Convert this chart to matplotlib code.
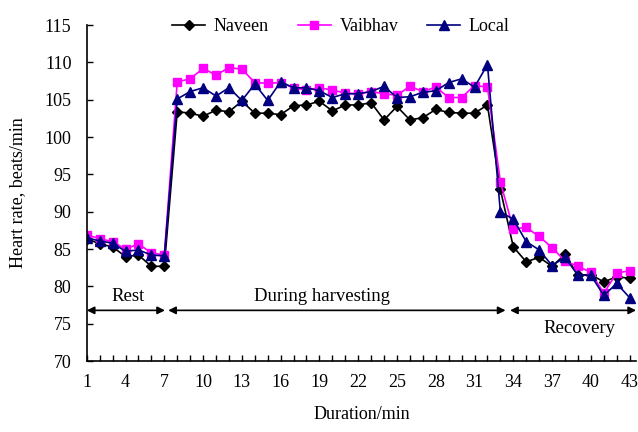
"""Heart rate of three operators during rest, harvesting and recovery."""

import matplotlib

matplotlib.use("Agg")
import matplotlib.pyplot as plt
import numpy as np

# duration in minutes
minutes = np.arange(1, 44)

naveen = [
    86.4, 85.7, 85.3, 84.0, 84.2, 82.7, 82.7,
    103.4, 103.2, 102.8, 103.6, 103.4, 104.8, 103.2, 103.2, 103.0, 104.2,
    104.3, 104.8, 103.5, 104.3, 104.3, 104.6, 102.3, 104.1, 102.3, 102.6,
    103.7, 103.3, 103.2, 103.2, 104.3,
    93.0, 85.3, 83.3, 83.9, 82.7, 84.3, 81.5, 81.6, 80.6, 81.3, 81.1,
]
vaibhav = [
    86.9, 86.4, 86.0, 85.0, 85.7, 84.5, 84.2,
    107.4, 107.8, 109.2, 108.3, 109.3, 109.1, 107.3, 107.2, 107.3, 106.6,
    106.3, 106.6, 106.3, 105.9, 105.8, 106.1, 105.8, 105.6, 106.8, 106.1,
    106.7, 105.3, 105.3, 106.9, 106.7,
    94.0, 87.7, 87.9, 86.7, 85.2, 83.4, 82.7, 81.9, 79.1, 81.8, 82.1,
]
local = [
    86.5, 86.1, 85.8, 84.7, 84.9, 84.2, 84.1,
    105.1, 106.1, 106.6, 105.5, 106.6, 104.9, 107.1, 104.9, 107.4, 106.6,
    106.6, 106.2, 105.3, 105.8, 105.8, 106.1, 106.8, 105.3, 105.4, 106.0,
    106.2, 107.3, 107.8, 106.7, 109.7,
    90.0, 89.0, 86.0, 84.9, 82.8, 83.9, 81.5, 81.5, 78.8, 80.4, 78.5,
]

phase_names = ["Rest", "During harvesting", "Recovery"]
phase_spans = [(1.0, 7.05), (7.3, 33.4), (33.75, 43.5)]

plt.rcParams["font.family"] = ["Liberation Serif", "DejaVu Serif"]
plt.rcParams["font.size"] = 13

fig = plt.figure(figsize=(6.38, 4.32), dpi=100)
ax = fig.add_axes([0.136, 0.164, 0.861, 0.778])

ax.plot(minutes, naveen, color="black", marker="D", markersize=5, lw=1.2, label="Naveen")
ax.plot(minutes, vaibhav, color="#ff00ff", marker="s", markersize=5.5, lw=1.2, label="Vaibhav")
ax.plot(minutes, local, color="#000080", marker="^", markersize=6.5, lw=1.2, label="Local")

# phase arrows
arrow_y = 76.8
for (x0, x1) in phase_spans:
    ax.annotate(
        "", xy=(x1, arrow_y), xytext=(x0, arrow_y),
        arrowprops=dict(arrowstyle="<|-|>", color="black", lw=1.2,
                        mutation_scale=11, shrinkA=0, shrinkB=0),
        annotation_clip=False,
    )
ax.text(4.2, 78.6, phase_names[0], ha="center", va="center", fontsize=13.5)
ax.text(19.2, 78.6, phase_names[1], ha="center", va="center", fontsize=13.5)
ax.text(39.1, 74.4, phase_names[2], ha="center", va="center", fontsize=13.5)

ax.set_xlim(1, 43.5)
ax.set_ylim(70, 115)
ax.set_xticks(np.arange(1, 44, 3))
ax.set_xticks(np.arange(1, 44, 1), minor=True)
ax.set_yticks(np.arange(70, 116, 5))
ax.tick_params(axis="both", which="both", direction="in", length=4, width=1)
ax.tick_params(axis="x", which="major", pad=9)
ax.tick_params(axis="y", which="major", pad=11)
for side in ("top", "right"):
    ax.spines[side].set_visible(False)
for side in ("left", "bottom"):
    ax.spines[side].set_linewidth(1.2)

ax.set_xlabel("Duration/min", fontsize=13, labelpad=11)
ax.set_ylabel("Heart rate, beats/min", fontsize=13, labelpad=13)

ax.legend(loc="center", bbox_to_anchor=(0.463, 0.995), ncol=3, frameon=False,
          handlelength=1.8, columnspacing=1.6, handletextpad=0.5, fontsize=13)

fig.savefig("out.png", dpi=100, facecolor="white")
